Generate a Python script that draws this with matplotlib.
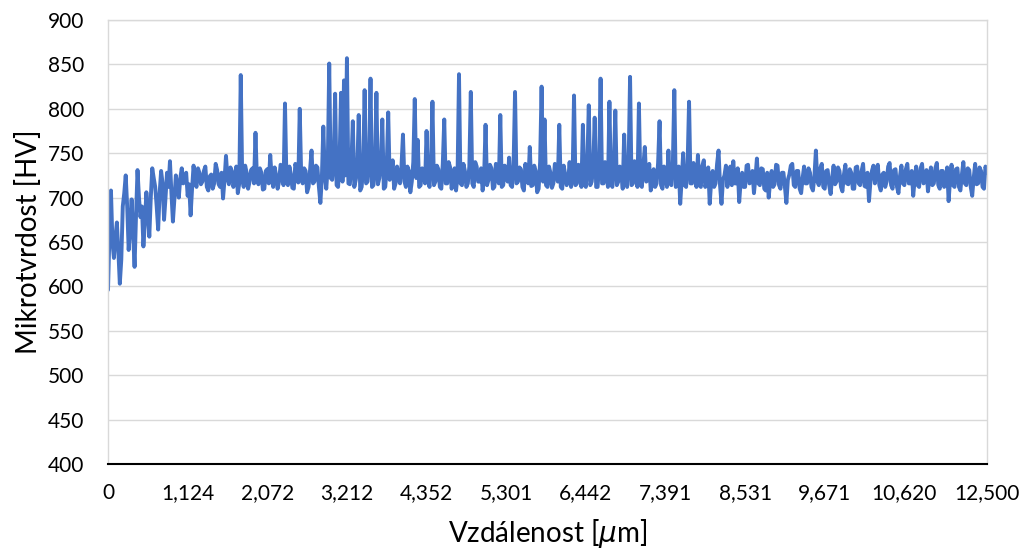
import matplotlib
matplotlib.use("Agg")
import matplotlib.pyplot as plt

# distance labels shown on the category axis
tick_labels = ["0", "1,124", "2,072", "3,212", "4,352", "5,301", "6,442",
               "7,391", "8,531", "9,671", "10,620", "12,500"]

# microhardness readings [HV]
hv_start = [596, 660, 708, 650, 632, 655, 672, 640, 603, 630, 690, 705, 725, 690, 641, 665, 698, 660, 622, 680,
            731, 700, 678, 690, 645, 672, 706, 684, 656, 700, 733, 722, 712, 690, 664, 705, 730, 716, 675, 700,
            728, 712, 741, 705, 673, 698, 725, 712, 700, 722, 733, 716, 718, 728, 702, 715, 680, 710, 736, 718,
            712, 733, 728, 715, 718, 730, 735, 712, 708, 724, 726, 710, 716, 738, 731, 715, 712, 728, 699, 720,
            747, 722, 715, 734, 730, 712, 720, 735, 705, 716, 838, 722, 712, 736, 728, 710, 718, 731, 733, 716,
            773, 720, 715, 733, 728, 709, 710, 730, 732, 716, 748, 722, 712, 734, 725, 710, 718, 737, 735, 714,
            806, 720, 714, 735, 726, 711, 710, 738, 733, 717, 800, 724, 716, 733, 730, 706, 712, 731, 753, 716]

hv_middle = [718, 736, 734, 712, 694, 722, 780, 725, 710, 735, 851, 722, 720, 738, 817, 714, 712, 740, 818, 718,
             832, 725, 857, 716, 715, 738, 786, 712, 720, 731, 793, 708, 712, 735, 821, 716, 718, 740, 834, 712,
             714, 733, 818, 715, 722, 738, 788, 710, 712, 735, 796, 720, 724, 742, 710, 716, 735, 722, 716, 736,
             771, 718, 712, 735, 730, 706, 718, 740, 811, 722, 765, 712, 714, 733, 728, 716, 775, 720, 712, 738,
             808, 714, 718, 736, 732, 712, 710, 738, 788, 716, 716, 740, 734, 710, 720, 733, 708, 724, 839, 716,
             714, 738, 730, 712, 716, 735, 819, 716, 712, 740, 735, 718, 718, 733, 708, 722, 782, 714, 720, 737,
             733, 710, 712, 738, 726, 716, 793, 712, 714, 736, 728, 718, 745, 714, 712, 737, 819, 716, 718, 734,
             732, 712, 708, 738, 725, 716, 757, 713, 714, 736, 730, 706, 710, 740, 825, 718, 788, 714, 712, 735,
             728, 711, 716, 738, 733, 718, 782, 712, 710, 736, 726, 714, 718, 740, 712, 722, 815, 714, 716, 737,
             730, 712, 782, 716, 712, 738, 804, 714, 718, 735, 790, 712, 712, 736, 834, 716, 716, 740, 728, 712,
             808, 716, 712, 737, 798, 714, 718, 735, 730, 710, 771, 718, 712, 738, 836, 714, 716, 741, 726, 712,
             806, 715, 712, 736, 757, 718, 720, 738, 708, 716, 732, 712, 716, 739, 786, 714, 710, 735, 726, 712,
             753, 716, 714, 738, 821, 712, 718, 735, 693, 720, 750, 714, 712, 737, 808, 716, 716, 739, 730, 712]

hv_end = [748, 714, 712, 736, 742, 712, 718, 734, 693, 718, 730, 712, 716, 738, 753, 714, 693, 720, 725, 736,
          712, 730, 735, 714, 741, 716, 716, 733, 695, 718, 728, 712, 712, 736, 737, 716, 718, 730, 705, 722,
          744, 716, 714, 733, 732, 710, 708, 728, 700, 718, 730, 712, 715, 737, 736, 714, 710, 728, 728, 712,
          694, 720, 726, 736, 738, 714, 712, 730, 730, 710, 705, 722, 735, 716, 716, 733, 728, 712, 708, 724,
          753, 718, 714, 733, 738, 712, 710, 730, 731, 714, 704, 722, 736, 715, 718, 734, 730, 712, 707, 726,
          737, 716, 715, 732, 728, 710, 710, 734, 735, 716, 714, 730, 738, 713, 712, 728, 696, 718, 730, 736,
          716, 732, 737, 714, 708, 726, 728, 712, 718, 735, 739, 714, 710, 731, 732, 712, 705, 724, 736, 716,
          714, 732, 738, 716, 716, 730, 702, 720, 735, 714, 712, 733, 738, 716, 718, 731, 707, 722, 734, 714,
          716, 733, 739, 714, 710, 730, 730, 712, 718, 734, 696, 720, 737, 714, 712, 732, 733, 712, 708, 726,
          740, 716, 714, 733, 731, 712, 702, 722, 738, 715, 716, 734, 730, 712, 710, 735, 728]

hv = hv_start + hv_middle + hv_end


def main():
    plt.rcParams["font.family"] = ["Lato", "DejaVu Sans"]

    fig, ax = plt.subplots(figsize=(10.2, 5.56), dpi=100)
    plt.subplots_adjust(left=0.1059, right=0.9676, top=0.964, bottom=0.1655)

    x = list(range(len(hv)))
    ax.plot(x, hv, color="#4472C4", linewidth=2.8, solid_joinstyle="round",
            solid_capstyle="round")

    # category axis: a label every 54 points plus the last point
    step = 54
    ticks = [i * step for i in range(len(tick_labels) - 1)] + [len(hv) - 1]
    ax.set_xticks(ticks)
    ax.set_xticklabels(tick_labels)
    ax.set_xlim(0, len(hv) - 1)

    ax.set_ylim(400, 900)
    ax.set_yticks(range(400, 901, 50))
    ax.grid(axis="y", color="#d9d9d9", linewidth=1.0)
    ax.set_axisbelow(True)

    for side in ["left", "top", "right"]:
        ax.spines[side].set_color("#d9d9d9")
        ax.spines[side].set_linewidth(1.0)
    ax.spines["bottom"].set_color("black")
    ax.spines["bottom"].set_linewidth(1.5)
    ax.spines["bottom"].set_zorder(3)

    ax.tick_params(axis="both", length=0, labelsize=15, colors="black")
    ax.tick_params(axis="y", pad=17)
    ax.tick_params(axis="x", pad=14)

    ax.set_ylabel("Mikrotvrdost [HV]", fontsize=20, labelpad=4)
    ax.set_xlabel("Vzdálenost [$\\mu$m]", fontsize=20, labelpad=10)

    fig.savefig("out.png", dpi=100)


if __name__ == "__main__":
    main()
